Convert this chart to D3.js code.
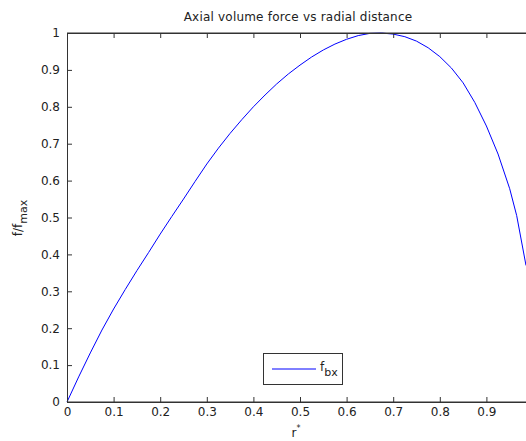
<!DOCTYPE html>
<html>
<head>
<meta charset="utf-8">
<script src="https://cdn.jsdelivr.net/npm/d3@7"></script>
<style>
  body { margin: 0; background: #fff; }
  text { font-family: "DejaVu Sans", "Liberation Sans", Arial, sans-serif; }
</style>
</head>
<body>
<div id="chart"></div>
<script>
// --- data ---
const rValues = [0, 0.025, 0.05, 0.075, 0.1, 0.125, 0.15, 0.175, 0.2, 0.225, 0.25, 0.275,
  0.3, 0.325, 0.35, 0.375, 0.4, 0.425, 0.45, 0.475, 0.5, 0.525, 0.55, 0.575, 0.6, 0.625,
  0.65, 0.675, 0.7, 0.725, 0.75, 0.775, 0.8, 0.825, 0.85, 0.875, 0.9, 0.925, 0.95, 0.965, 0.985];
const fValues = [0, 0.068, 0.133, 0.195, 0.252, 0.305, 0.356, 0.405, 0.455, 0.503, 0.55, 0.598,
  0.645, 0.688, 0.728, 0.765, 0.80, 0.832, 0.862, 0.889, 0.913, 0.935, 0.954, 0.97, 0.983, 0.993,
  0.999, 1.0, 0.997, 0.99, 0.978, 0.96, 0.936, 0.905, 0.865, 0.812, 0.748, 0.672, 0.578, 0.505, 0.37];
const xTicks = [0, 0.1, 0.2, 0.3, 0.4, 0.5, 0.6, 0.7, 0.8, 0.9];
const yTicks = [0, 0.1, 0.2, 0.3, 0.4, 0.5, 0.6, 0.7, 0.8, 0.9, 1];

const W = 526, H = 441;
const margin = { top: 33, right: 0, bottom: 39, left: 67 };

const svg = d3.select("#chart").append("svg")
  .attr("width", W)
  .attr("height", H);

const x = d3.scaleLinear().domain([0, 0.99]).range([margin.left, margin.left + 0.99 * 466]);
const y = d3.scaleLinear().domain([0, 1]).range([402, margin.top]);

// --- curve ---
const pts = rValues.map((r, i) => [r, fValues[i]]);
svg.append("path")
  .datum(pts)
  .attr("fill", "none")
  .attr("stroke", "#0000ff")
  .attr("stroke-width", 1)
  .attr("d", d3.line().x(d => x(d[0])).y(d => y(d[1])));

// --- axes (inward ticks, box on left/top/bottom) ---
const axisColor = "#333";
const xAxis = svg.append("g")
  .attr("transform", `translate(0,${y(0)})`)
  .call(d3.axisBottom(x).tickValues(xTicks).tickSizeInner(-5).tickSizeOuter(0).tickPadding(5)
    .tickFormat(d3.format("")));
const xTop = svg.append("g")
  .attr("transform", `translate(0,${y(1)})`)
  .call(d3.axisTop(x).tickValues(xTicks).tickSizeInner(-5).tickSizeOuter(0).tickFormat(""));
const yAxis = svg.append("g")
  .attr("transform", `translate(${x(0)},0)`)
  .call(d3.axisLeft(y).tickValues(yTicks).tickSizeInner(-5).tickSizeOuter(0).tickPadding(7)
    .tickFormat(d3.format("")));

[xAxis, xTop, yAxis].forEach(g => {
  g.select(".domain").attr("stroke", axisColor);
  g.selectAll(".tick line").attr("stroke", axisColor);
  g.selectAll(".tick text")
    .attr("fill", "#222")
    .style("font-size", "12px")
    .style("font-family", "'DejaVu Sans', Arial, sans-serif");
});
// extend top/bottom lines to the right edge
svg.append("line").attr("x1", x(0)).attr("x2", W).attr("y1", y(0)).attr("y2", y(0)).attr("stroke", axisColor);
svg.append("line").attr("x1", x(0)).attr("x2", W).attr("y1", y(1)).attr("y2", y(1)).attr("stroke", axisColor);

// --- title and labels ---
svg.append("text")
  .attr("x", 298).attr("y", 21)
  .attr("text-anchor", "middle")
  .attr("font-size", "12px")
  .attr("letter-spacing", "0.2px")
  .attr("fill", "#222")
  .text("Axial volume force vs radial distance");

const xl = svg.append("text")
  .attr("x", 296).attr("y", 437)
  .attr("text-anchor", "middle")
  .attr("font-size", "12px")
  .attr("fill", "#222");
xl.append("tspan").text("r");
xl.append("tspan").attr("dy", -6).attr("font-size", "8px").text("*");

const yl = svg.append("text")
  .attr("transform", "translate(22,218) rotate(-90)")
  .attr("text-anchor", "middle")
  .attr("font-size", "12px")
  .attr("fill", "#222");
yl.append("tspan").text("f/f");
yl.append("tspan").attr("dy", 5).attr("font-size", "11px").text("max");

// --- legend ---
const leg = svg.append("g");
leg.append("rect")
  .attr("x", 263.5).attr("y", 353.5)
  .attr("width", 79).attr("height", 31)
  .attr("fill", "#fff")
  .attr("stroke", axisColor);
leg.append("line")
  .attr("x1", 272).attr("x2", 316).attr("y1", 369).attr("y2", 369)
  .attr("stroke", "#0000ff");
const lt = leg.append("text")
  .attr("x", 320).attr("y", 371)
  .attr("font-size", "12px")
  .attr("fill", "#222");
lt.append("tspan").text("f");
lt.append("tspan").attr("dy", 5).attr("font-size", "11px").text("bx");
</script>
</body>
</html>
